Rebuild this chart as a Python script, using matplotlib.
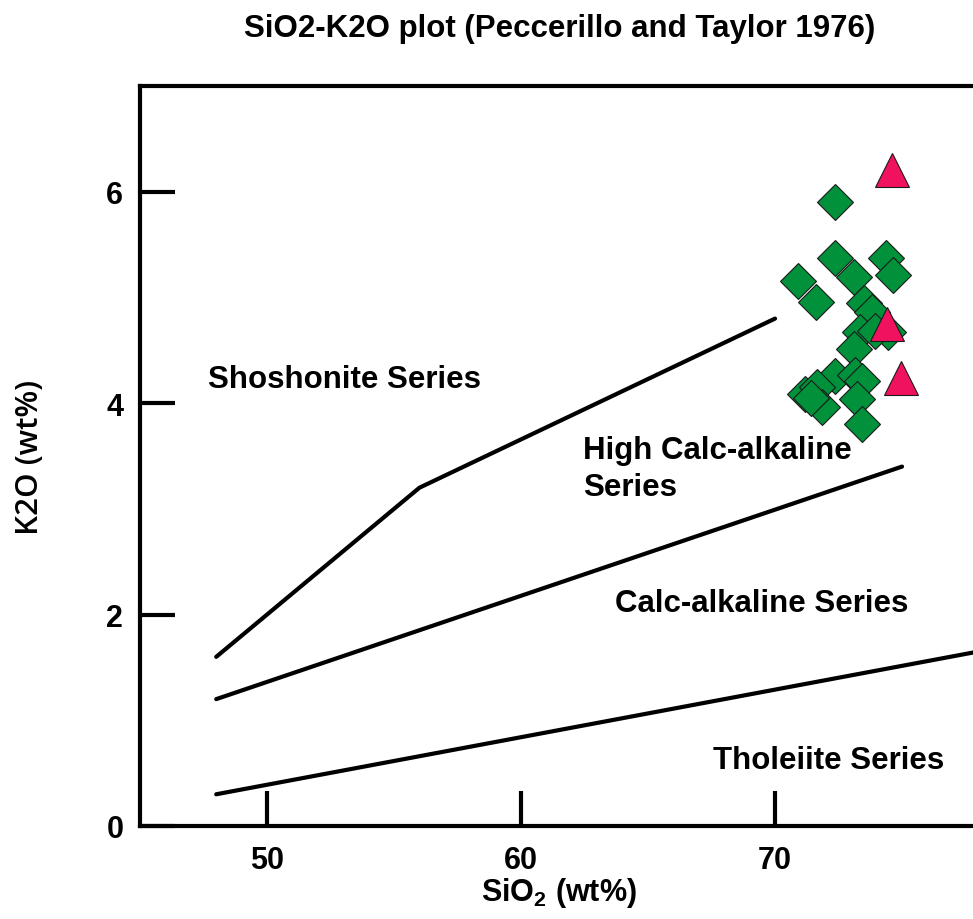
import matplotlib.pyplot as plt
import numpy as np

plt.rcParams['font.family'] = ['Liberation Sans', 'DejaVu Sans']
plt.rcParams['font.weight'] = 'bold'
plt.rcParams['mathtext.fontset'] = 'custom'
plt.rcParams['mathtext.rm'] = 'Liberation Sans:bold'
plt.rcParams['mathtext.bf'] = 'Liberation Sans:bold'

# Peccerillo & Taylor (1976) boundaries
sho_x = [48, 56, 70]
sho_y = [1.6, 3.2, 4.8]
hca_x = [48, 75]
hca_y = [1.2, 3.4]
tho_x = [48, 78]
tho_y = [0.3, 1.65]

# samples (diamonds)
sio2_d = [72.36, 72.36, 74.36, 74.66, 73.11, 70.92, 71.61, 73.50, 73.81, 74.46, 73.35,
          73.94, 73.11, 72.36, 73.15, 73.41, 71.18, 71.65, 71.84, 73.22, 73.41, 71.40]
k2o_d = [5.90, 5.37, 5.37, 5.21, 5.19, 5.16, 4.96, 4.95, 4.86, 4.67, 4.67,
         4.68, 4.51, 4.26, 4.27, 4.21, 4.09, 4.15, 3.96, 4.04, 3.80, 4.05]
# samples (triangles)
sio2_t = [74.62, 74.40, 74.95]
k2o_t = [6.21, 4.75, 4.24]

fig = plt.figure(figsize=(9.73, 9.2), dpi=100)
ax = fig.add_axes([0.1439, 0.1011, 0.8615, 0.8043])

for xs, ys in [(sho_x, sho_y), (hca_x, hca_y), (tho_x, tho_y)]:
    ax.plot(xs, ys, color='black', lw=3, solid_capstyle='round', zorder=2)

ax.plot(sio2_d, k2o_d, 'D', ms=18, mfc='#00913a', mec='#1a1a1a', mew=0.8, zorder=3)
ax.plot(sio2_t, k2o_t, '^', ms=24, mfc='#f0125f', mec='#1a1a1a', mew=0.8, zorder=4)

fs = 22.5
ax.text(47.68, 4.23, 'Shoshonite Series', fontsize=fs, va='center', ha='left')
ax.text(62.44, 3.38, 'High Calc-alkaline\nSeries', fontsize=fs, va='center', ha='left',
        linespacing=1.3)
ax.text(63.70, 2.11, 'Calc-alkaline Series', fontsize=fs, va='center', ha='left')
ax.text(67.56, 0.62, 'Tholeiite Series', fontsize=fs, va='center', ha='left')

ax.set_xlim(45, 78)
ax.set_ylim(0, 7)
ax.set_xticks([50, 60, 70])
ax.set_yticks([0, 2, 4, 6])
ax.tick_params(axis='both', direction='in', length=25, width=3, labelsize=22)
ax.tick_params(axis='x', pad=14)
ax.tick_params(axis='y', pad=12)
for s in ax.spines.values():
    s.set_linewidth(3)

ax.set_xlabel(r'SiO$_{\mathbf{2}}$ (wt%)', fontsize=22, fontweight='bold', labelpad=0)
ax.set_ylabel('K2O (wt%)', fontsize=22.5, family='Open Sans', fontweight='semibold',
              labelpad=44)
fig.text(0.575, 0.968, 'SiO2-K2O plot (Peccerillo and Taylor 1976)', fontsize=fs,
         ha='center', va='center')

fig.savefig('out.png', dpi=100)
